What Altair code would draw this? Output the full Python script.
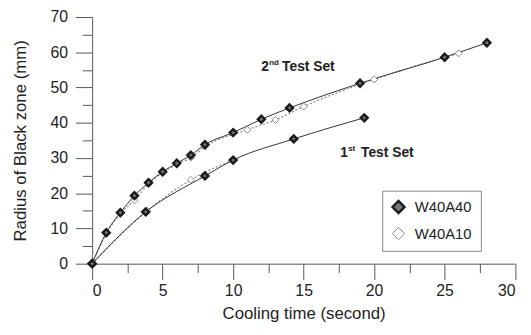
import altair as alt
import pandas as pd

FONT = "Liberation Sans"

# ---- data ----
x_w40a40_2nd = [0, 1, 2, 3, 4, 5, 6, 7, 8, 10, 12, 14, 19, 25, 28]
y_w40a40_2nd = [0, 8.8, 14.5, 19.3, 23.0, 26.1, 28.5, 30.8, 33.8, 37.2, 41.0, 44.2, 51.2, 58.6, 62.7]
x_w40a10_2nd = [0, 1, 2, 3, 4, 5, 6, 7, 8, 11, 13, 15, 20, 26]
y_w40a10_2nd = [0, 8.5, 14.2, 18.0, 22.6, 25.8, 28.2, 30.1, 33.2, 38.0, 40.8, 44.6, 52.3, 59.7]
x_w40a40_1st = [0, 3.8, 8, 10, 14.3, 19.3]
y_w40a40_1st = [0, 14.7, 24.9, 29.4, 35.4, 41.4]
x_w40a10_1st = [0, 3.9, 7, 10]
y_w40a10_1st = [0, 15.0, 23.8, 29.5]

series_names = ["W40A40", "W40A10"]
x_major = [0, 5, 10, 15, 20, 25, 30]
x_minor = [2.5, 7.5, 12.5, 17.5, 22.5, 27.5]
y_major = [0, 10, 20, 30, 40, 50, 60, 70]
y_minor = [5, 15, 25, 35, 45, 55, 65]

ann_set = ["2nd", "1st"]
ann_x = [12.0, 17.6]
ann_y = [55.8, 31.4]
ann_num = ["2", "1"]
ann_sup = ["nd", "st"]
ann_rest = ["Test Set", "Test Set"]

rows = []
for xs, ys, s, t in [
    (x_w40a10_2nd, y_w40a10_2nd, "W40A10", "2nd"),
    (x_w40a10_1st, y_w40a10_1st, "W40A10", "1st"),
    (x_w40a40_2nd, y_w40a40_2nd, "W40A40", "2nd"),
    (x_w40a40_1st, y_w40a40_1st, "W40A40", "1st"),
]:
    for xv, yv in zip(xs, ys):
        rows.append({"x": xv, "y": yv, "series": s, "set": t})
df = pd.DataFrame(rows)

ann = pd.DataFrame({"set": ann_set, "x": ann_x, "y": ann_y,
                    "num": ann_num, "sup": ann_sup, "rest": ann_rest})

xscale = alt.Scale(domain=[0, 30], nice=False, zero=False)
yscale = alt.Scale(domain=[0, 70], nice=False, zero=False)

axis_common = dict(grid=False, domainColor="#555", tickColor="#555",
                   labelColor="#222", titleColor="#222", labelFont=FONT, titleFont=FONT,
                   labelFontSize=16, titleFontSize=17, titleFontWeight="normal")

x_main = alt.Axis(values=x_major, tickSize=16, labelPadding=3, titlePadding=8,
                  title="Cooling time (second)", orient="bottom", **axis_common)
y_main = alt.Axis(values=y_major, tickSize=17, labelPadding=8, titlePadding=21,
                  title="Radius of Black zone (mm)", orient="left", **axis_common)
x_min_ax = alt.Axis(values=x_minor, tickSize=9, labels=False, domain=False, title=None,
                    orient="bottom", grid=False, tickColor="#555")
y_min_ax = alt.Axis(values=y_minor, tickSize=10, labels=False, domain=False, title=None,
                    orient="left", grid=False, tickColor="#555")

base = alt.Chart(df)

line40 = base.transform_filter(alt.datum.series == "W40A40").mark_line(
    color="#333", strokeWidth=1, interpolate="monotone"
).encode(
    x=alt.X("x:Q", scale=xscale, axis=None),
    y=alt.Y("y:Q", scale=yscale, axis=None),
    detail="set:N",
)

line10 = base.transform_filter(alt.datum.series == "W40A10").mark_line(
    color="#888", strokeWidth=1.2, strokeDash=[2, 2], interpolate="monotone"
).encode(
    x=alt.X("x:Q", scale=xscale, axis=x_min_ax),
    y=alt.Y("y:Q", scale=yscale, axis=y_min_ax),
    detail="set:N",
)

legend = alt.Legend(title=None, orient="none", legendX=294, legendY=176,
                    strokeColor="#888", padding=9, labelFont=FONT, labelFontSize=15,
                    labelColor="#222", symbolSize=150, symbolType="diamond",
                    rowPadding=7, labelOffset=9, fillColor="white")

points = base.mark_point(shape="diamond", size=50, filled=True, opacity=1).encode(
    x=alt.X("x:Q", scale=xscale, axis=x_main),
    y=alt.Y("y:Q", scale=yscale, axis=y_main),
    stroke=alt.Stroke("series:N", scale=alt.Scale(domain=series_names, range=["#1a1a1a", "#888"]), legend=legend),
    fill=alt.Fill("series:N", scale=alt.Scale(domain=series_names, range=["#777", "white"]), legend=legend),
    strokeWidth=alt.StrokeWidth("series:N", scale=alt.Scale(domain=series_names, range=[2.4, 1]), legend=legend),
    order=alt.Order("ord:Q"),
).transform_calculate(ord="datum.series == 'W40A40' ? 1 : 0")

tbase = alt.Chart(ann)
txt_kw = dict(font=FONT, fontWeight="bold", color="#222", align="left", baseline="middle")
t_num = tbase.mark_text(fontSize=14, **txt_kw).encode(
    x=alt.X("x:Q", scale=xscale, axis=None), y=alt.Y("y:Q", scale=yscale, axis=None), text="num:N")
t_sup = tbase.mark_text(fontSize=8, dx=8, dy=-4, **txt_kw).encode(
    x=alt.X("x:Q", scale=xscale, axis=None), y=alt.Y("y:Q", scale=yscale, axis=None), text="sup:N")
t_rest = tbase.mark_text(fontSize=14, dx=21, **txt_kw).encode(
    x=alt.X("x:Q", scale=xscale, axis=None), y=alt.Y("y:Q", scale=yscale, axis=None), text="rest:N")

chart = alt.layer(line10, line40, points, t_num, t_sup, t_rest).resolve_axis(
    x="independent", y="independent"
).properties(
    width=428.7, height=250,
    autosize=alt.AutoSizeParams(type="none"),
    padding={"left": 85.3, "top": 7, "right": 8, "bottom": 62},
    background="white",
).configure_view(stroke=None)

chart.save("out.html", embed_options={"renderer": "svg", "actions": False})
